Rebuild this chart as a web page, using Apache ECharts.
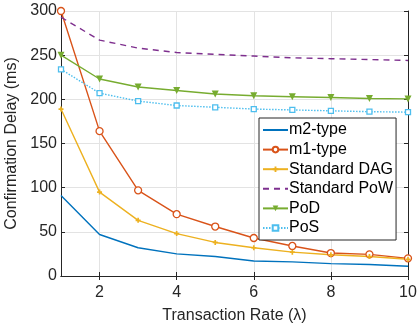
<!DOCTYPE html>
<html><head><meta charset="utf-8">
<script src="https://cdn.jsdelivr.net/npm/echarts@6/dist/echarts.min.js"></script>
<style>html,body{margin:0;padding:0;background:#fff}#c{width:417px;height:326px}</style>
</head><body><div id="c"></div>
<script>
const rates = [1,2,3,4,5,6,7,8,9,10];
const m2Type = [91,47,32,25,22,17,16,14,13,11];
const m1Type = [300,164,97,70,56,43,34,26,24.5,20];
const standardDAG = [189,95,63,48,38,32,27,24,22,19];
const standardPoW = [293,267,258,253,251,249,247,246,245,244];
const poD = [250,223,214,210,206,204,203,202,201,200.5];
const poS = [234,207,198,193,191,189,188,187,186,185.5];
const xTicks = [2,4,6,8,10];
const seriesNames = ['m2-type','m1-type','Standard DAG','Standard PoW','PoD','PoS'];

const F = 'Liberation Sans, Arial, Helvetica, sans-serif';
const FS = 16;
const axisCol = '#262626';
const pair = a => a.map((v,i)=>[rates[i],v]);
const plus = 'path://M1,0H2V1H3V2H2V3H1V2H0V1H1Z';
const noMark = {color:'rgba(0,0,0,0)', borderColor:'rgba(0,0,0,0)', borderWidth:0};

function mk(name, data, color, opts) {
  return Object.assign({
    name, type:'line', data: pair(data), xAxisIndex:0, yAxisIndex:0,
    lineStyle:{color, width:1.4}, itemStyle:{color},
    symbol:'none', animation:false, z:3
  }, opts||{});
}

const chart = echarts.init(document.getElementById('c'));
chart.setOption({
  animation:false,
  grid:{left:61, right:9, top:11, bottom:50, containLabel:false, outerBoundsMode:'none'},
  xAxis:[{
    type:'value', min:1, max:10,
    name:'Transaction Rate (λ)', nameLocation:'middle', nameGap:32,
    nameTextStyle:{fontFamily:F, fontSize:FS, color:axisCol},
    axisLine:{show:true, lineStyle:{color:axisCol, width:1}},
    axisTick:{show:true, inside:true, length:4, customValues:xTicks, lineStyle:{color:axisCol}},
    axisLabel:{customValues:xTicks, fontFamily:F, fontSize:FS, color:axisCol, margin:9},
    splitLine:{show:true, lineStyle:{color:'#e3e3e3', width:1}}
  },{
    type:'value', min:1, max:10, position:'top',
    axisLine:{show:true, lineStyle:{color:axisCol, width:1}},
    axisTick:{show:true, inside:true, length:4, customValues:xTicks, lineStyle:{color:axisCol}},
    axisLabel:{show:false}, splitLine:{show:false}
  }],
  yAxis:[{
    type:'value', min:0, max:300, interval:50,
    name:'Confirmation Delay (ms)', nameLocation:'middle', nameGap:37,
    nameTextStyle:{fontFamily:F, fontSize:FS, color:axisCol},
    axisLine:{show:true, lineStyle:{color:axisCol, width:1}},
    axisTick:{show:true, inside:true, length:4, lineStyle:{color:axisCol}},
    axisLabel:{fontFamily:F, fontSize:FS, color:axisCol, margin:4},
    splitLine:{show:true, lineStyle:{color:'#e3e3e3', width:1}}
  },{
    type:'value', min:0, max:300, interval:50, position:'right',
    axisLine:{show:true, lineStyle:{color:axisCol, width:1}},
    axisTick:{show:true, inside:true, length:4, lineStyle:{color:axisCol}},
    axisLabel:{show:false}, splitLine:{show:false}
  }],
  legend:{
    orient:'vertical', left:259, top:118, width:130,
    padding:[4,3,4,3], itemGap:3.6, itemWidth:25, itemHeight:7,
    backgroundColor:'#fff', borderColor:axisCol, borderWidth:1, borderRadius:0,
    textStyle:{fontFamily:F, fontSize:FS, lineHeight:16, color:'#000', padding:[0,0,0,-4]},
    data:[
      {name:seriesNames[0], itemStyle:noMark},
      {name:seriesNames[1]},
      {name:seriesNames[2]},
      {name:seriesNames[3], itemStyle:noMark},
      {name:seriesNames[4]},
      {name:seriesNames[5]}
    ]
  },
  series:[
    mk(seriesNames[0], m2Type, '#0072BD'),
    mk(seriesNames[1], m1Type, '#D95319', {symbol:'circle', symbolSize:7, itemStyle:{color:'#fff', borderColor:'#D95319', borderWidth:1.3}}),
    mk(seriesNames[2], standardDAG, '#EDB120', {symbol:plus, symbolSize:5}),
    mk(seriesNames[3], standardPoW, '#7E2F8E', {lineStyle:{color:'#7E2F8E', width:1.4, type:[6,5]}}),
    mk(seriesNames[4], poD, '#77AC30', {symbol:'triangle', symbolRotate:180, symbolSize:7}),
    mk(seriesNames[5], poS, '#4DBEEE', {symbol:'rect', symbolSize:5, lineStyle:{color:'#4DBEEE', width:1.4, type:[1.5,1.5]}, itemStyle:{color:'#fff', borderColor:'#4DBEEE', borderWidth:1.3}})
  ]
});
</script></body></html>
